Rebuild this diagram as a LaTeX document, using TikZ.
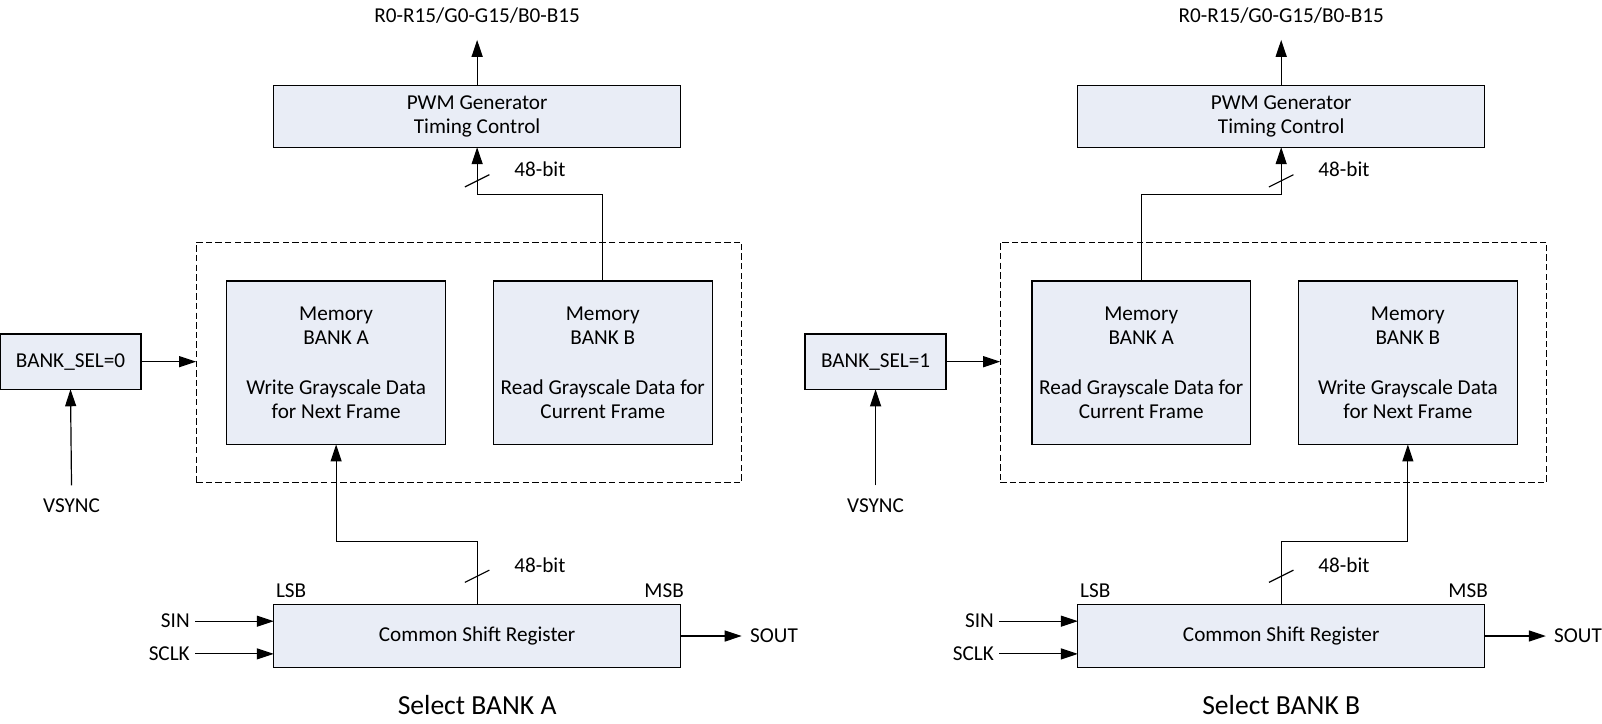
\documentclass[tikz,border=0pt]{standalone}
\usepackage{fontspec}
\setmainfont{Carlito}
\usetikzlibrary{arrows.meta,calc}
\definecolor{boxfill}{RGB}{233,237,246}
\begin{document}
\begin{tikzpicture}[x=0.5108pt,y=-0.5108pt,
  sz/.style 2 args={minimum width=#1*0.5108pt,minimum height=#2*0.5108pt},
  blk/.style={draw,fill=boxfill,line width=0.6pt,inner sep=0pt,outer sep=0pt,align=center,font=\fontsize{10.6}{12.3}\selectfont},
  dbox/.style={draw,line width=0.6pt,dash pattern=on 3.2pt off 1.6pt,inner sep=0pt,outer sep=0pt},
  lbl/.style={inner sep=0pt,font=\fontsize{10.6}{12.3}\selectfont},
  inl/.style={lbl,anchor=east,inner xsep=2.5pt},
  outl/.style={lbl,anchor=west,inner xsep=4pt},
  captext/.style={inner sep=0pt,font=\fontsize{13.8}{16}\selectfont},
  conn/.style={line width=0.6pt},
  arr/.style={conn,-{Triangle[length=8.5pt,width=5.5pt]}}]
\useasboundingbox (0,0) rectangle (1568,708);

% ================= LEFT PANEL =================
\node[lbl] (lout) at (467,15) {R0-R15/G0-G15/B0-B15};
\coordinate (loutend) at (467,39);
\node[blk,sz={398}{60}] (lpwm) at (467,114) {PWM Generator\\Timing Control};
\draw[arr] (lpwm.north) -- (loutend);
\node[dbox,sz={534}{235}] (ldash) at (459,354.5) {};
\node[blk,sz={214}{160}] (lmema) at (329,355) {Memory\\BANK A\\[12.3pt]Write Grayscale Data\\for Next Frame};
\node[blk,sz={214}{160}] (lmemb) at (590,355) {Memory\\BANK B\\[12.3pt]Read Grayscale Data for\\Current Frame};
\node[blk,sz={138}{54}] (lsel) at (69,354) {BANK\_SEL=0};
\draw[arr] (lsel.east) -- (lsel.east -| ldash.west);
\node[lbl] (lvs) at (70,495) {VSYNC};
\coordinate (lvst) at (70,475);
\draw[arr] (lvst) -- (lsel.south);
\draw[arr] (lmemb.north) -- ++(0,-85) -| (lpwm.south);
\draw[conn] (455,183) -- (479,171);
\node[lbl,anchor=west] (lbt) at (503,166) {48-bit};
\node[blk,sz={398}{61}] (lsr) at (467,622.5) {Common Shift Register};
\draw[arr] (lsr.north) -- ++(0,-62) -| (lmema.south);
\draw[conn] (455,570) -- (479,558);
\node[lbl,anchor=west] (lbb) at (503,553) {48-bit};
\node[lbl] (llsb) at (285,578) {LSB};
\node[lbl] (lmsb) at (650,578) {MSB};
\node[inl] (lsin) at (191,608) {SIN};
\draw[arr] (lsin.east) -- (lsin.east -| lsr.west);
\node[inl] (lsclk) at (191,640) {SCLK};
\draw[arr] (lsclk.east) -- (lsclk.east -| lsr.west);
\node[outl] (lsout) at (726,622.5) {SOUT};
\draw[arr] (lsr.east) -- (lsout.west);
\node[captext] (lcap) at (467,690) {Select BANK A};

% ================= RIGHT PANEL =================
\node[lbl] (rout) at (1254,15) {R0-R15/G0-G15/B0-B15};
\coordinate (routend) at (1254,39);
\node[blk,sz={398}{60}] (rpwm) at (1254,114) {PWM Generator\\Timing Control};
\draw[arr] (rpwm.north) -- (routend);
\node[dbox,sz={535}{235}] (rdash) at (1246.5,354.5) {};
\node[blk,sz={214}{160}] (rmema) at (1117,355) {Memory\\BANK A\\[12.3pt]Read Grayscale Data for\\Current Frame};
\node[blk,sz={214}{160}] (rmemb) at (1378,355) {Memory\\BANK B\\[12.3pt]Write Grayscale Data\\for Next Frame};
\node[blk,sz={138}{54}] (rsel) at (857,354) {BANK\_SEL=1};
\draw[arr] (rsel.east) -- (rsel.east -| rdash.west);
\node[lbl] (rvs) at (857,495) {VSYNC};
\coordinate (rvst) at (857,475);
\draw[arr] (rvst) -- (rsel.south);
\draw[arr] (rmema.north) -- ++(0,-85) -| (rpwm.south);
\draw[conn] (1242,183) -- (1266,171);
\node[lbl,anchor=west] (rbt) at (1290,166) {48-bit};
\node[blk,sz={398}{61}] (rsr) at (1254,622.5) {Common Shift Register};
\draw[arr] (rsr.north) -- ++(0,-62) -| (rmemb.south);
\draw[conn] (1242,570) -- (1266,558);
\node[lbl,anchor=west] (rbb) at (1290,553) {48-bit};
\node[lbl] (rlsb) at (1072,578) {LSB};
\node[lbl] (rmsb) at (1437,578) {MSB};
\node[inl] (rsin) at (978,608) {SIN};
\draw[arr] (rsin.east) -- (rsin.east -| rsr.west);
\node[inl] (rsclk) at (978,640) {SCLK};
\draw[arr] (rsclk.east) -- (rsclk.east -| rsr.west);
\node[outl] (rsout) at (1513,622.5) {SOUT};
\draw[arr] (rsr.east) -- (rsout.west);
\node[captext] (rcap) at (1254,690) {Select BANK B};
\end{tikzpicture}
\end{document}
